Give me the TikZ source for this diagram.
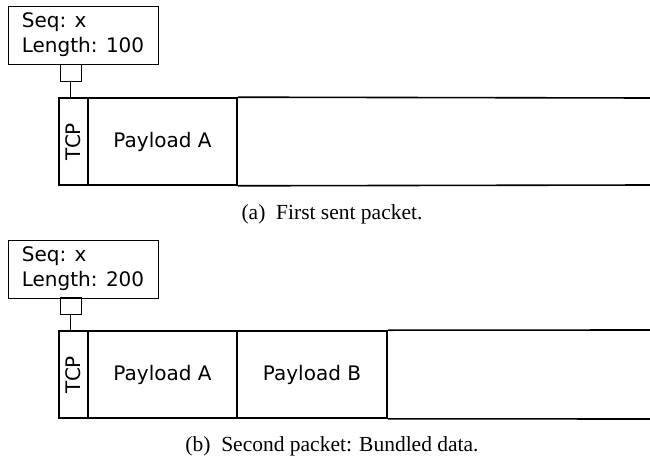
\documentclass[tikz,border=0pt]{standalone}
\usepackage{fontspec}
\setmainfont{Liberation Serif}
\newfontfamily\dvfont{DejaVu Sans}
\begin{document}
\begin{tikzpicture}[x=1pt,y=-1pt,
  lblbox/.style={draw,line width=0.8pt,minimum width=150pt,minimum height=58pt,inner sep=0pt,align=left,font=\dvfont\fontsize{20}{25}\selectfont},
  sqbox/.style={draw,line width=0.8pt,minimum width=21pt,minimum height=17pt,inner sep=0pt},
  tcpbox/.style={draw,line width=1.6pt,minimum width=29pt,minimum height=87pt,inner sep=0pt,font=\dvfont\fontsize{20}{24}\selectfont},
  paybox/.style={draw,line width=1.6pt,minimum width=149pt,minimum height=87pt,inner sep=0pt,font=\dvfont\fontsize{20}{24}\selectfont},
  linkline/.style={line width=0.8pt},
  pktline/.style={line width=1.6pt},
  captext/.style={font=\fontsize{21.5}{24}\selectfont}]
\useasboundingbox (0,0) rectangle (650,460);
% panel (a)
\node[lblbox] (lblA) at (83,35) {Seq: x\\Length: 100};
\node[sqbox] (sqA) at (70.5,72.5) {};
\node[tcpbox] (tcpA) at (73.5,141.5) {\rotatebox{90}{TCP}};
\node[paybox] (payAA) at (162.5,141.5) {Payload A};
\coordinate (endAt) at (650,98);
\coordinate (endAb) at (650,185);
\draw[pktline] (payAA.north east) -- (endAt);
\draw[pktline] (payAA.south east) -- (endAb);
\draw[linkline] (sqA.south) -- (sqA.south |- tcpA.north);
\node[captext] (capA) at (332,214) {(a)\ \ First sent packet.};
% panel (b)
\node[lblbox] (lblB) at (83,269) {Seq: x\\Length: 200};
\node[sqbox] (sqB) at (70.5,306) {};
\node[tcpbox] (tcpB) at (73.5,374.5) {\rotatebox{90}{TCP}};
\node[paybox] (payBA) at (162.5,374.5) {Payload A};
\node[paybox,minimum width=150pt] (payBB) at (312,374.5) {Payload B};
\coordinate (endBt) at (650,330);
\coordinate (endBb) at (650,419);
\draw[pktline] (payBB.north east) -- (endBt);
\draw[pktline] (payBB.south east) -- (endBb);
\draw[linkline] (sqB.south) -- (sqB.south |- tcpB.north);
\node[captext] (capB) at (332,446) {(b)\ \ Second packet: Bundled data.};
\end{tikzpicture}
\end{document}
